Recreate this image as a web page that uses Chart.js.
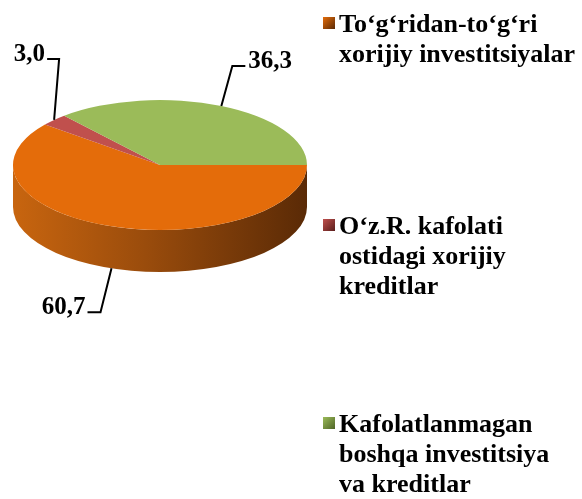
<!DOCTYPE html>
<html>
<head>
<meta charset="utf-8">
<script src="https://cdn.jsdelivr.net/npm/chart.js@4.4.0/dist/chart.umd.min.js"></script>
<style>
body { margin: 0; background: #fff; }
#wrap { position: relative; width: 582px; height: 499px; }
#pieChart { position: absolute; left: 0; top: 0; }
.legend-item { position: absolute; left: 339px; font: bold 26px 'Liberation Serif', 'Times New Roman', serif; line-height: 30px; color: #000; white-space: nowrap; }
.legend-box { position: absolute; left: -16px; top: 8px; width: 12px; height: 12px; }
</style>
</head>
<body>
<div id="wrap">
  <canvas id="pieChart" width="582" height="499"></canvas>
</div>
<script>
const categories = [
    ['To‘g‘ridan-to‘g‘ri', 'xorijiy investitsiyalar'],
    ['O‘z.R. kafolati', 'ostidagi xorijiy', 'kreditlar'],
    ['Kafolatlanmagan', 'boshqa investitsiya', 'va kreditlar']
];
const shares = [60.7, 3.0, 36.3];
const topColors = ['#E46C0A', '#C0504D', '#9BBB59'];
const sideColors = [['#C8650F', '#9A4C0C', '#5A2A06'], ['#A03C3A', '#7A2C2A', '#5A1E1C'], ['#86A347', '#6C8836', '#4F6527']];

const tilt = 0.442;   // vertical squash of the top face
const depth = 42;     // thickness of the pie

// where each value label sits relative to its slice anchor
const labelPlace = [
    { ex: -11, ey: 44, len: -13 },
    { ex: 5, ey: -61, len: -12 },
    { ex: 11, ey: -40, len: 13 }
];
const legendTops = [9, 211, 409];

const pie3d = {
    id: 'pie3d',
    beforeDatasetsDraw(chart) {
        const ctx = chart.ctx;
        const arcs = chart.getDatasetMeta(0).data;
        const cx = arcs[0].x, cy = arcs[0].y, r = arcs[0].outerRadius;
        const ry = r * tilt;

        // side walls for the front (lower) half
        arcs.forEach((arc, i) => {
            const a0 = Math.max(arc.startAngle, 0);
            const a1 = Math.min(arc.endAngle, Math.PI);
            if (a1 <= a0) return;
            const g = ctx.createLinearGradient(cx - r, 0, cx + r, 0);
            g.addColorStop(0, sideColors[i][0]);
            g.addColorStop(0.45, sideColors[i][1]);
            g.addColorStop(1, sideColors[i][2]);
            ctx.beginPath();
            ctx.ellipse(cx, cy, r, ry, 0, a0, a1);
            ctx.ellipse(cx, cy + depth, r, ry, 0, a1, a0, true);
            ctx.closePath();
            ctx.fillStyle = g;
            ctx.fill();
        });

        ctx.save();
        ctx.translate(cx, cy);
        ctx.scale(1, tilt);
        ctx.translate(-cx, -cy);
    },
    afterDatasetsDraw(chart) {
        const ctx = chart.ctx;
        ctx.restore();

        const arcs = chart.getDatasetMeta(0).data;
        ctx.save();
        ctx.strokeStyle = '#000';
        ctx.lineWidth = 2;
        ctx.fillStyle = '#000';
        ctx.font = "bold 25px 'Liberation Serif', 'Times New Roman', serif";
        ctx.textBaseline = 'alphabetic';
        arcs.forEach((arc, i) => {
            const m = (arc.startAngle + arc.endAngle) / 2;
            const r = arc.outerRadius, ry = r * tilt;
            let ax = arc.x + r * Math.cos(m);
            let ay = arc.y + ry * Math.sin(m);
            if (Math.sin(m) > 0) ay += depth;
            const p = labelPlace[i];
            const bx = ax + p.ex, by = ay + p.ey;
            const ex = bx + p.len;
            ctx.beginPath();
            ctx.moveTo(ax, ay);
            ctx.lineTo(bx, by);
            ctx.lineTo(ex, by);
            ctx.stroke();
            const txt = shares[i].toFixed(1).replace('.', ',');
            if (p.len < 0) {
                ctx.textAlign = 'right';
                ctx.fillText(txt, ex - 2, by + 2);
            } else {
                ctx.textAlign = 'left';
                ctx.fillText(txt, ex + 3, by + 2);
            }
        });
        ctx.restore();
    }
};

window.onload = function() {
    const ctxPie = document.getElementById('pieChart').getContext('2d');
    new Chart(ctxPie, {
        type: 'pie',
        data: {
            labels: categories.map(c => c.join(' ')),
            datasets: [{
                data: shares,
                backgroundColor: topColors,
                borderWidth: 0,
                clip: false
            }]
        },
        options: {
            responsive: false,
            animation: false,
            rotation: 90,
            layout: { padding: { left: 13, top: 18, right: 275, bottom: 187 } },
            plugins: {
                legend: { display: false },
                tooltip: { enabled: false }
            }
        },
        plugins: [pie3d]
    });

    const wrap = document.getElementById('wrap');
    categories.forEach((lines, i) => {
        const item = document.createElement('div');
        item.className = 'legend-item';
        item.style.top = legendTops[i] + 'px';
        const box = document.createElement('span');
        box.className = 'legend-box';
        box.style.background = 'linear-gradient(135deg, ' + topColors[i] + ', ' + sideColors[i][2] + ')';
        item.appendChild(box);
        lines.forEach((line, k) => {
            if (k > 0) item.appendChild(document.createElement('br'));
            item.appendChild(document.createTextNode(line));
        });
        wrap.appendChild(item);
    });
};
</script>
</body>
</html>
